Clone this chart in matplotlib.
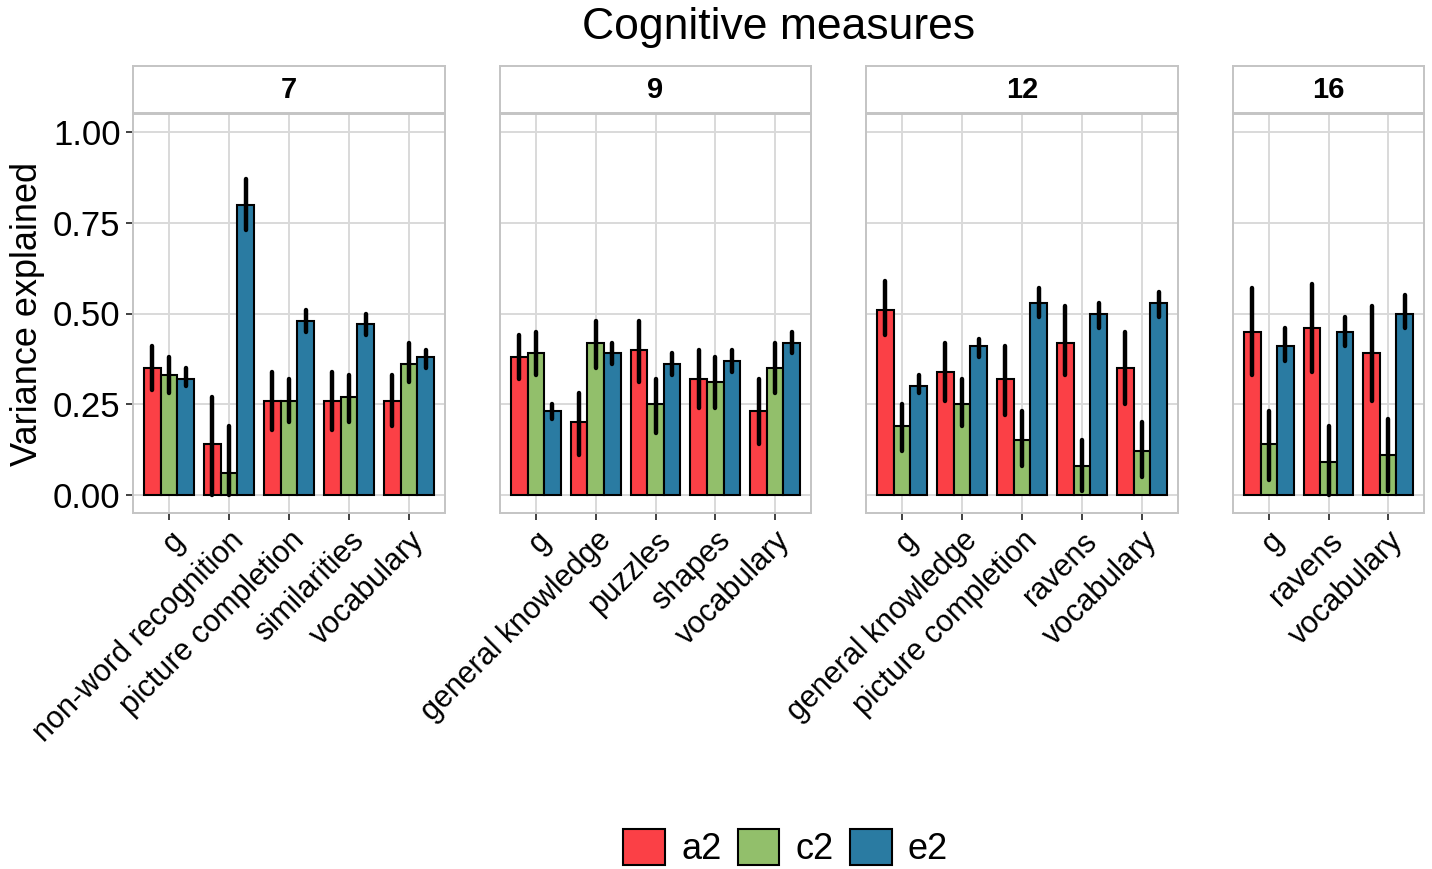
# Variance components (a2 / c2 / e2) of cognitive measures by age wave.
import matplotlib
matplotlib.use('Agg')
import matplotlib.pyplot as plt
from matplotlib.patches import Patch
import numpy as np

plt.rcParams['font.family'] = ['Liberation Sans', 'DejaVu Sans']

# ── DATA ─────────────────────────────────────────────────────────────────────
WAVES = ['7', '9', '12', '16']
MEASURES = [
    ['g', 'non-word recognition', 'picture completion', 'similarities', 'vocabulary'],
    ['g', 'general knowledge', 'puzzles', 'shapes', 'vocabulary'],
    ['g', 'general knowledge', 'picture completion', 'ravens', 'vocabulary'],
    ['g', 'ravens', 'vocabulary'],
]
COMPONENTS = ['a2', 'c2', 'e2']

a2 = [[.35, .14, .26, .26, .26], [.38, .20, .40, .32, .23], [.51, .34, .32, .42, .35], [.45, .46, .39]]
a2_lo = [[.29, .00, .18, .18, .19], [.32, .11, .31, .24, .14], [.44, .26, .22, .33, .25], [.33, .34, .26]]
a2_hi = [[.41, .27, .34, .34, .33], [.44, .28, .48, .40, .32], [.59, .42, .41, .52, .45], [.57, .58, .52]]

c2 = [[.33, .06, .26, .27, .36], [.39, .42, .25, .31, .35], [.19, .25, .15, .08, .12], [.14, .09, .11]]
c2_lo = [[.28, .00, .20, .20, .31], [.33, .35, .17, .24, .28], [.12, .19, .08, .01, .05], [.04, .00, .01]]
c2_hi = [[.38, .19, .32, .33, .42], [.45, .48, .32, .38, .42], [.25, .32, .23, .15, .20], [.23, .19, .21]]

e2 = [[.32, .80, .48, .47, .38], [.23, .39, .36, .37, .42], [.30, .41, .53, .50, .53], [.41, .45, .50]]
e2_lo = [[.30, .73, .45, .44, .35], [.21, .36, .33, .34, .39], [.28, .38, .49, .46, .49], [.37, .41, .46]]
e2_hi = [[.35, .87, .51, .50, .40], [.25, .42, .39, .40, .45], [.33, .43, .57, .53, .56], [.46, .49, .55]]

COLORS = ['#FB4046', '#92BF6B', '#2A7BA2']

# ── LAYOUT (pixels) ──────────────────────────────────────────────────────────
W, H = 1432, 869
PANEL_X = [(133, 445), (500, 811), (866, 1178), (1233, 1424)]
PANEL_TOP, PANEL_BOT = 114, 513
STRIP_TOP = 66
GRID = '#D9D9D9'
BORDER = '#C4C4C4'
BAR_W = 0.277

fig = plt.figure(figsize=(W / 100, H / 100), dpi=100)

def frac_box(x0, x1, ytop, ybot):
    return [x0 / W, 1 - ybot / H, (x1 - x0) / W, (ybot - ytop) / H]

series = [(a2, a2_lo, a2_hi), (c2, c2_lo, c2_hi), (e2, e2_lo, e2_hi)]

for i, wave in enumerate(WAVES):
    x0, x1 = PANEL_X[i]
    ax = fig.add_axes(frac_box(x0, x1, PANEL_TOP, PANEL_BOT))
    n = len(MEASURES[i])
    x = np.arange(1, n + 1)

    for k, (vals, lo, hi) in enumerate(series):
        xs = x + (k - 1) * BAR_W
        ax.bar(xs, vals[i], width=BAR_W, color=COLORS[k], edgecolor='black',
               linewidth=1.5, zorder=3)
        ax.vlines(xs, lo[i], hi[i], color='black', linewidth=3.2, zorder=4,
                  capstyle='round')

    ax.set_xlim(0.4, n + 0.6)
    ax.set_ylim(-0.05, 1.05)
    ax.set_xticks(x)
    ax.set_xticklabels(MEASURES[i], rotation=45, ha='right', va='top',
                       rotation_mode='anchor', fontsize=22)
    ax.set_yticks([0, 0.25, 0.5, 0.75, 1.0])
    ax.tick_params(axis='both', colors='#333333', width=1.3, length=5, pad=4)
    if i == 0:
        ax.set_yticklabels(['0.00', '0.25', '0.50', '0.75', '1.00'], fontsize=25)
        ax.set_ylabel('Variance explained', fontsize=26, labelpad=6)
    else:
        ax.tick_params(axis='y', length=0, labelleft=False)
    for lab in ax.get_xticklabels() + ax.get_yticklabels():
        lab.set_color('black')
    ax.grid(True, color=GRID, linewidth=1.4, zorder=0)
    ax.set_axisbelow(True)
    for sp in ax.spines.values():
        sp.set_color(BORDER)
        sp.set_linewidth(1.4)

    # facet strip
    sx = fig.add_axes(frac_box(x0, x1, STRIP_TOP, PANEL_TOP - 1))
    sx.set_xticks([])
    sx.set_yticks([])
    for sp in sx.spines.values():
        sp.set_color(BORDER)
        sp.set_linewidth(1.4)
    sx.text(0.5, 0.5, wave, ha='center', va='center', fontsize=21,
            fontweight='bold', transform=sx.transAxes)

mid_x = (PANEL_X[0][0] + PANEL_X[-1][1]) / 2 / W
fig.text(mid_x, 1 - 27 / H, 'Cognitive measures', ha='center', va='center', fontsize=32)

handles = [Patch(facecolor=c, edgecolor='black', linewidth=1.5) for c in COLORS]
fig.legend(handles, COMPONENTS, loc='center', bbox_to_anchor=(mid_x + 0.005, 1 - 848 / H),
           ncol=3, frameon=False, fontsize=26, handlelength=1.15, handleheight=1.15,
           handletextpad=0.45, columnspacing=0.45)

fig.savefig('out.png', dpi=100)
